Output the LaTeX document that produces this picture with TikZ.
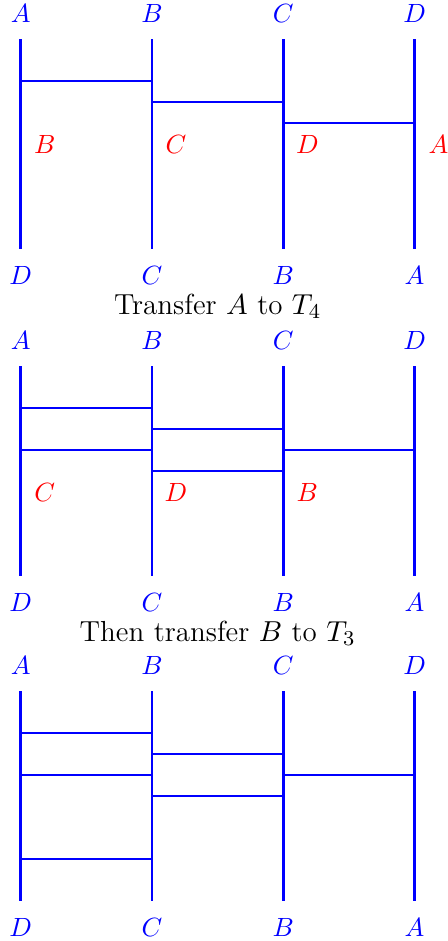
\documentclass[tikz,border=0pt]{standalone}
\usetikzlibrary{calc}
\begin{document}
\begin{tikzpicture}[x=1cm/75, y=-1cm/75,
  wire/.style={blue, line width=1.1pt},
  lab/.style={blue, inner sep=0pt},
  redlab/.style={red, inner sep=0pt},
  caption/.style={anchor=base, inner sep=0pt, font=\fontsize{11}{13}\selectfont}]
\useasboundingbox (0,0) rectangle (448,941);
% vertical tracks with top and bottom labels
\foreach \p/\t in {1/39,2/366,3/691} {
  \foreach \n/\m/\x in {A/D/20.7,B/C/152,C/B/283.3,D/A/414.6} {
    \coordinate (t\p\n) at (\x,\t);
    \coordinate (b\p\n) at (\x,\t+210);
    \draw[wire] (t\p\n) -- (b\p\n);
    \node[lab] (lt\p\n) at ($(t\p\n)+(0,-26)$) {$\n$};
    \node[lab] (lb\p\n) at ($(b\p\n)+(0,26)$) {$\m$};
  }
}
% panel 1
\draw[wire] ($(t1A)+(0,42)$) -- ($(t1B)+(0,42)$);
\draw[wire] ($(t1B)+(0,63)$) -- ($(t1C)+(0,63)$);
\draw[wire] ($(t1C)+(0,84)$) -- ($(t1D)+(0,84)$);
\node[redlab] (r1B) at ($(t1A)+(24,105)$) {$B$};
\node[redlab] (r1C) at ($(t1B)+(24,105)$) {$C$};
\node[redlab] (r1D) at ($(t1C)+(24,105)$) {$D$};
\node[redlab] (r1A) at ($(t1D)+(24,105)$) {$A$};
\node[caption] (cap1) at (217.7,314) {Transfer $A$ to $T_4$};
% panel 2
\draw[wire] ($(t2A)+(0,42)$) -- ($(t2B)+(0,42)$);
\draw[wire] ($(t2A)+(0,84)$) -- ($(t2B)+(0,84)$);
\draw[wire] ($(t2B)+(0,63)$) -- ($(t2C)+(0,63)$);
\draw[wire] ($(t2B)+(0,105)$) -- ($(t2C)+(0,105)$);
\draw[wire] ($(t2C)+(0,84)$) -- ($(t2D)+(0,84)$);
\node[redlab] (r2C) at ($(t2A)+(24,126)$) {$C$};
\node[redlab] (r2D) at ($(t2B)+(24,126)$) {$D$};
\node[redlab] (r2B) at ($(t2C)+(24,126)$) {$B$};
\node[caption] (cap2) at (217.7,641) {Then transfer $B$ to $T_3$};
% panel 3
\draw[wire] ($(t3A)+(0,42)$) -- ($(t3B)+(0,42)$);
\draw[wire] ($(t3A)+(0,84)$) -- ($(t3B)+(0,84)$);
\draw[wire] ($(t3A)+(0,168)$) -- ($(t3B)+(0,168)$);
\draw[wire] ($(t3B)+(0,63)$) -- ($(t3C)+(0,63)$);
\draw[wire] ($(t3B)+(0,105)$) -- ($(t3C)+(0,105)$);
\draw[wire] ($(t3C)+(0,84)$) -- ($(t3D)+(0,84)$);
\end{tikzpicture}
\end{document}
